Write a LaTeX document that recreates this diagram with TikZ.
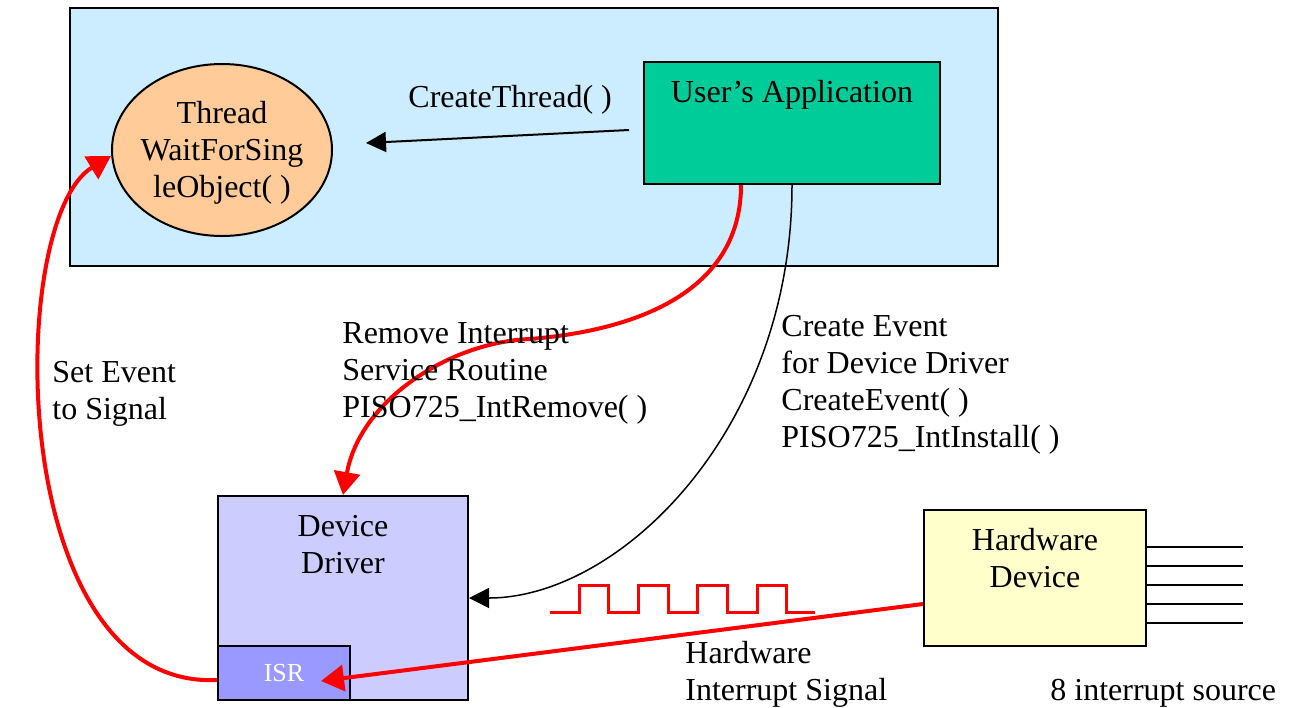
\documentclass[tikz,border=0pt]{standalone}
\usepackage{fontspec}
\setmainfont{Liberation Serif}
\usetikzlibrary{shapes.geometric,arrows.meta,positioning}

\definecolor{panelblue}{RGB}{204,236,255}
\definecolor{threadorange}{RGB}{255,204,153}
\definecolor{appgreen}{RGB}{0,204,153}
\definecolor{driverblue}{RGB}{204,204,255}
\definecolor{isrblue}{RGB}{153,153,255}
\definecolor{hwyellow}{RGB}{255,255,204}

\begin{document}
\begin{tikzpicture}[x=0.5pt,y=-0.5pt,font=\fontsize{16}{18.5}\selectfont,
  box/.style={draw,line width=1pt,inner sep=0pt},
  lbl/.style={anchor=west,align=left,inner sep=0pt},
  redarrow/.style={red,line width=2pt,-{Triangle[length=11.5pt,width=13pt]}},
  blackarrow/.style={-{Triangle[length=10pt,width=10pt]}}]
\useasboundingbox (0,0) rectangle (1293,707);

\node[box,fill=panelblue,minimum width=464pt,minimum height=129pt] (panel) at (534,137) {};
\node[box,ellipse,fill=threadorange,minimum width=110pt,minimum height=86pt] (thread) at (222,150) {};
\node[align=center] (threadtext) at ([yshift=-1.5pt]thread.center) {Thread\\WaitForSing\\leObject( )};
\node[box,fill=appgreen,minimum width=148pt,minimum height=61pt] (app) at (792,123) {};
\node (apptext) at ([yshift=-17pt]app.north) {User's Application};

\node[box,fill=driverblue,minimum width=125pt,minimum height=102pt] (dd) at (343,598) {};
\node[align=center] (ddtext) at ([yshift=-25pt]dd.north) {Device\\Driver};
\node[box,fill=isrblue,minimum width=66pt,minimum height=27pt,text=white,font=\fontsize{13}{15}\selectfont] (isr) at (284,673) {ISR};

\node[box,fill=hwyellow,minimum width=111pt,minimum height=68pt] (hw) at (1035,578) {};
\node[align=center] (hwtext) at ([yshift=-24.5pt]hw.north) {Hardware\\Device};
\foreach \yy in {547,566,585,604,623}
  \draw[line width=1pt] (hw.east |- 0,\yy) -- ++(96,0);

\draw[red,line width=1.5pt] (550,612) -- (579,612) -- (579,585) -- (608,585) -- (608,612)
  -- (638,612) -- (638,585) -- (668,585) -- (668,612)
  -- (697,612) -- (697,585) -- (727,585) -- (727,612)
  -- (757,612) -- (757,585) -- (786,585) -- (786,612) -- (815,612);

\draw[blackarrow,line width=1pt] ([xshift=-7pt,yshift=-3.5pt]app.west) -- ([xshift=16.5pt,yshift=3.5pt]thread.east);
\draw[redarrow] ([xshift=-25.5pt]app.south) .. controls (741,290) and (640,330) .. (530,339)
  .. controls (450,342) and (360,400) .. (dd.north);
\draw[blackarrow,line width=0.75pt] (app.south) .. controls (792,430) and (620,598) .. (dd.east);
\draw[redarrow] ([yshift=-13pt]hw.west) -- ([xshift=18.5pt,yshift=-4pt]isr.center);
\draw[redarrow] (isr.west |- 0,680) .. controls (5,690) and (5,220) .. ([yshift=-3pt]thread.west);

\node[lbl] (lcreate) at (408,100) {CreateThread( )};
\node[lbl] (lset) at (52,394) {Set Event\\to Signal};
\node[lbl] (lremove) at (342,373) {Remove Interrupt\\Service Routine\\PISO725\_IntRemove( )};
\node[lbl] (levent) at (781,385) {Create Event\\for Device Driver\\CreateEvent( )\\PISO725\_IntInstall( )};
\node[lbl] (lsignal) at (685,674) {Hardware\\Interrupt Signal};
\node[lbl] (lsource) at (1050,693) {8 interrupt source};
\end{tikzpicture}
\end{document}
